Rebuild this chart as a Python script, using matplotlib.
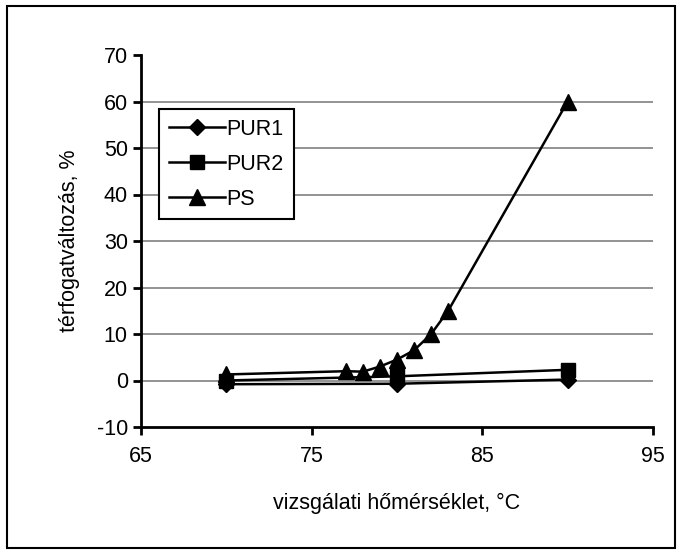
import matplotlib.pyplot as plt
from matplotlib.patches import Rectangle

plt.rcParams['font.family'] = ['Liberation Sans', 'DejaVu Sans']
plt.rcParams['axes.unicode_minus'] = False

pur1_x = [70, 80, 90]
pur1_y = [-0.8, -0.7, 0.2]
pur2_x = [70, 80, 90]
pur2_y = [0.0, 0.9, 2.3]
ps_x = [70, 77, 78, 79, 80, 81, 82, 83, 90]
ps_y = [1.3, 2.0, 1.9, 3.0, 4.5, 6.5, 10.0, 15.0, 60.0]

fig = plt.figure(figsize=(6.82, 5.54), dpi=100)
ax = fig.add_axes([141 / 682, 1 - 427 / 554, (653 - 141) / 682, (427 - 55) / 554])

ax.plot(pur1_x, pur1_y, color='black', lw=1.8, marker='D', ms=8, label='PUR1')
ax.plot(pur2_x, pur2_y, color='black', lw=1.8, marker='s', ms=10, label='PUR2')
ax.plot(ps_x, ps_y, color='black', lw=1.8, marker='^', ms=11, label='PS')

ax.set_xlim(65, 95)
ax.set_ylim(-10, 70)
ax.set_xticks([65, 75, 85, 95])
ax.set_yticks(range(-10, 71, 10))
for v in range(0, 61, 10):
    ax.axhline(v, color='#808080', lw=1.2, zorder=0)

for s in ['top', 'right']:
    ax.spines[s].set_visible(False)
for s in ['left', 'bottom']:
    ax.spines[s].set_linewidth(2)
ax.tick_params(direction='out', width=2, length=6, labelsize=15.5)
ax.tick_params(axis='x', pad=8)

ax.set_xlabel('vizsgálati hőmérséklet, °C', fontsize=15.5, labelpad=18)
ax.set_ylabel('térfogatváltozás, %', fontsize=15.5, labelpad=12)

leg = ax.legend(loc='upper left', bbox_to_anchor=(0.035, 0.855), fontsize=15.5,
                frameon=True, fancybox=False, edgecolor='black', framealpha=1,
                handlelength=2.6, borderpad=0.45, labelspacing=0.65, handletextpad=0.1,
                borderaxespad=0)
leg.get_frame().set_linewidth(1.5)

fig.patches.append(Rectangle((7 / 682, 6 / 554), 668 / 682, 542 / 554, transform=fig.transFigure,
                             fill=False, edgecolor='black', lw=1.5))

fig.savefig('out.png', dpi=100)
